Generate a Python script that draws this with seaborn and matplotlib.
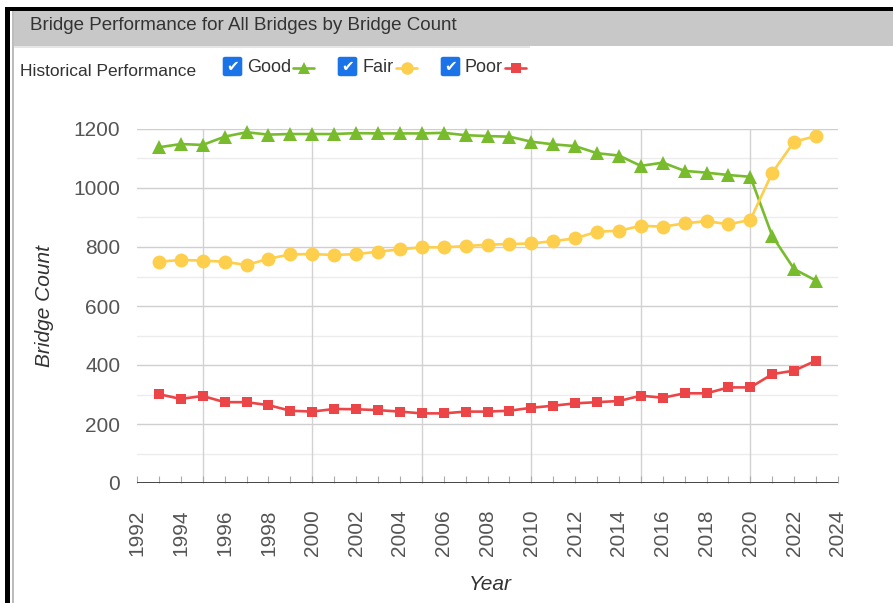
import numpy as np
import pandas as pd
import matplotlib
matplotlib.use("Agg")
import matplotlib.pyplot as plt
import seaborn as sns
from matplotlib.patches import Rectangle, FancyBboxPatch
from matplotlib.lines import Line2D

# ---------------- data ----------------
years = list(range(1993, 2024))
good = [1138, 1149, 1146, 1174, 1189, 1181, 1183, 1183, 1183, 1186, 1185, 1185,
        1185, 1187, 1179, 1176, 1174, 1157, 1148, 1142, 1118, 1110, 1075, 1086,
        1058, 1052, 1044, 1038, 837, 725, 686]
fair = [750, 756, 754, 750, 739, 760, 775, 776, 773, 776, 784, 792, 799, 799,
        803, 808, 810, 812, 820, 829, 852, 855, 872, 869, 880, 888, 877, 892,
        1052, 1157, 1176]
poor = [301, 285, 295, 274, 274, 264, 245, 242, 251, 250, 247, 242, 236, 236,
        242, 242, 245, 255, 262, 270, 274, 278, 296, 289, 304, 304, 324, 324,
        369, 381, 415]
series_names = ["Good", "Fair", "Poor"]
x_ticks = list(range(1992, 2025, 2))
y_ticks = list(range(0, 1201, 200))
title = "Bridge Performance for All Bridges by Bridge Count"
legend_title = "Historical Performance"

df = pd.DataFrame({"Year": years * 3,
                   "Count": good + fair + poor,
                   "Condition": sum([[n] * len(years) for n in series_names], [])})

colors = {"Good": "#78bc2e", "Fair": "#fdcf4c", "Poor": "#ec4548"}
markers = {"Good": "^", "Fair": "o", "Poor": "s"}
msizes = {"Good": 9.5, "Fair": 10, "Poor": 7.5}

sns.set_theme(style="white")
plt.rcParams["font.family"] = ["Liberation Sans", "DejaVu Sans"]

W, H = 893, 603
fig = plt.figure(figsize=(W / 100, H / 100), dpi=100)

def fx(px):
    return px / W

def fy(py):
    return 1 - py / H

ax = fig.add_axes([fx(137), fy(483), fx(838) - fx(137), fy(129) - fy(483)])

for name in series_names:
    sub = df[df["Condition"] == name]
    sns.lineplot(data=sub, x="Year", y="Count", ax=ax, color=colors[name],
                 marker=markers[name], markersize=msizes[name],
                 markeredgewidth=0, linewidth=1.9, clip_on=False, zorder=5)

ax.set_xlim(1992, 2024)
ax.set_ylim(0, 1200)

# grid
for v in range(100, 1200, 200):
    ax.axhline(v, color="#ececec", lw=1, zorder=0)
for v in range(200, 1201, 200):
    ax.axhline(v, color="#cfcfcf", lw=1, zorder=0)
for v in range(1995, 2021, 5):
    ax.axvline(v, color="#d2d2d2", lw=1, zorder=0)
ax.axhline(0, color="#444444", lw=1.4, zorder=3)

for s in ["top", "right", "left", "bottom"]:
    ax.spines[s].set_visible(False)

ax.set_xticks(x_ticks)
ax.set_xticks(list(range(1992, 2025)), minor=True)
ax.set_yticks(y_ticks)
ax.tick_params(axis="x", which="both", direction="in", length=5, width=0.8,
               color="#aaaaaa", pad=19, labelsize=15, labelcolor="#555555",
               labelrotation=90, bottom=True)
ax.tick_params(axis="y", length=0, pad=12, labelsize=15, labelcolor="#555555")
for lab in ax.get_xticklabels():
    lab.set_va("top")

ax.set_xlabel("Year", fontsize=15, style="italic", color="#333333", va="center")
ax.xaxis.set_label_coords(0.504, -(585 - 483) / 354)
ax.set_ylabel("Bridge Count", fontsize=15, style="italic", color="#333333", va="center")
ax.yaxis.set_label_coords((45 - 137) / 701, 0.5)
if ax.get_legend() is not None:
    ax.get_legend().remove()

# ---------- frame and header ----------
fig.add_artist(Rectangle((fx(5), fy(603)), fx(10) - fx(5), fy(7) - fy(603),
                         transform=fig.transFigure, color="black", lw=0))
fig.add_artist(Rectangle((fx(5), fy(11)), 1 - fx(5), fy(7) - fy(11),
                         transform=fig.transFigure, color="black", lw=0))
fig.add_artist(Rectangle((fx(12), fy(603)), fx(13.5) - fx(12), fy(11) - fy(603),
                         transform=fig.transFigure, color="#bdbdbd", lw=0))
fig.add_artist(Rectangle((fx(13.5), fy(46)), 1 - fx(13.5), fy(11) - fy(46),
                         transform=fig.transFigure, color="#c8c8c8", lw=0))
fig.add_artist(Rectangle((fx(13.5), fy(48)), fx(530) - fx(13.5), fy(46) - fy(48),
                         transform=fig.transFigure, color="#e6e6e6", lw=0))
fig.text(fx(30), fy(25), title, fontsize=13.5, color="#333333", ha="left", va="center")

# ---------- legend ----------
fig.text(fx(20), fy(71), legend_title, fontsize=12.5, color="#333333", ha="left", va="center")
legend_pos = {"Good": (223, 247, 304), "Fair": (338, 362, 407), "Poor": (441, 464, 516)}
for name in series_names:
    cb, tx, mk = legend_pos[name]
    fig.add_artist(FancyBboxPatch((fx(cb + 1.5), fy(75)), fx(16), fy(58) - fy(75),
                                  boxstyle="round,pad=0.002,rounding_size=0.003",
                                  transform=fig.transFigure, color="#1a73e8", lw=0))
    fig.text(fx(cb + 9.5), fy(66.5), "\u2714", fontsize=11,
             color="white", ha="center", va="center", family=["DejaVu Sans"])
    fig.text(fx(tx), fy(67), name, fontsize=13, color="#333333", ha="left", va="center")
    fig.add_artist(Line2D([fx(mk - 11), fx(mk + 10)], [fy(68), fy(68)],
                          transform=fig.transFigure, color=colors[name], lw=1.9))
    fig.add_artist(Line2D([fx(mk)], [fy(68)], transform=fig.transFigure,
                          marker=markers[name], markersize=msizes[name] * 0.9,
                          markeredgewidth=0, color=colors[name], lw=0))

fig.savefig("out.png", dpi=100)
